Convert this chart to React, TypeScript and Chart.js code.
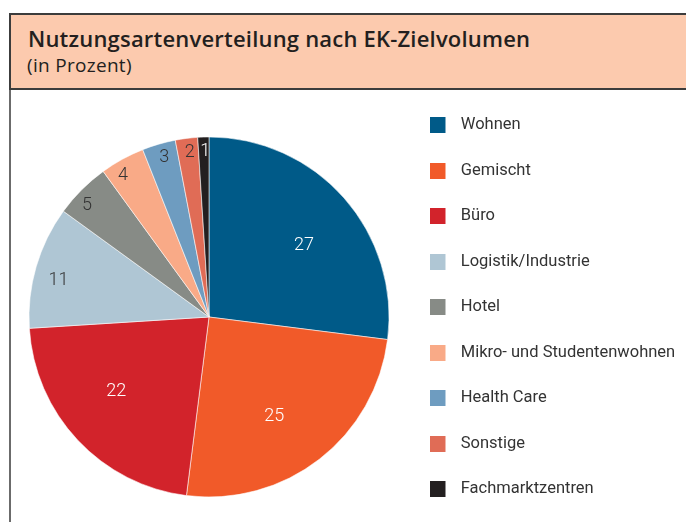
import React, { useEffect, useRef } from "react";
import { Chart, registerables } from "chart.js";

Chart.register(...registerables);

const titleText = "Nutzungsartenverteilung nach EK-Zielvolumen";
const subtitleText = "(in Prozent)";
const categories = [
  "Wohnen",
  "Gemischt",
  "Büro",
  "Logistik/Industrie",
  "Hotel",
  "Mikro- und Studentenwohnen",
  "Health Care",
  "Sonstige",
  "Fachmarktzentren",
];
const shares = [27, 25, 22, 11, 5, 4, 3, 2, 1];
const colors = [
  "#005A88",
  "#F15A29",
  "#D2232B",
  "#AFC6D4",
  "#878B86",
  "#F9AA87",
  "#6E9CC0",
  "#E06C56",
  "#231F20",
];

const FONT_FAMILY = "Roboto, 'Liberation Sans', sans-serif";
const TITLE_FAMILY = "'Open Sans', Roboto, sans-serif";
const LEGEND_SIZE = 16.5;
const LEGEND_PAD = 29;
const SWATCH = 16;
const SWATCH_SLOT = 23;

const CANVAS_LEFT = 12;
const CANVAS_TOP = 88;
const CANVAS_W = 720;
const CANVAS_H = 458;
const LEGEND_LEFT = 388.5; // canvas coords of legend block left
const PIE_RADIUS = 180;

function isDark(hex: string) {
  const n = parseInt(hex.slice(1), 16);
  const r = (n >> 16) & 255, g = (n >> 8) & 255, b = n & 255;
  return 0.299 * r + 0.587 * g + 0.114 * b < 133;
}

function swatch(color: string) {
  const c = document.createElement("canvas");
  c.width = SWATCH_SLOT;
  c.height = SWATCH;
  const x = c.getContext("2d")!;
  x.fillStyle = color;
  x.fillRect(0, 0, SWATCH, SWATCH);
  return c;
}

const sliceLabels = {
  id: "sliceLabels",
  afterDatasetsDraw(chart: any) {
    const ctx = chart.ctx;
    const meta = chart.getDatasetMeta(0);
    const data = chart.data.datasets[0].data as number[];
    ctx.save();
    ctx.font = `300 18px ${FONT_FAMILY}`;
    ctx.textAlign = "center";
    ctx.textBaseline = "middle";
    meta.data.forEach((arc: any, i: number) => {
      const p = arc.getProps(["x", "y", "startAngle", "endAngle", "outerRadius"], true);
      const v = data[i];
      const f = v >= 20 ? 0.66 : v >= 10 ? 0.86 : 0.92;
      const shiftDeg = v >= 20 ? 4.5 : v >= 4 ? -2.5 : 0.5;
      const a = (p.startAngle + p.endAngle) / 2 + (shiftDeg * Math.PI) / 180;
      ctx.fillStyle = isDark(colors[i]) ? "#ffffff" : "#333333";
      ctx.fillText(String(v), p.x + Math.cos(a) * p.outerRadius * f, p.y + Math.sin(a) * p.outerRadius * f);
    });
    ctx.restore();
  },
};

export default function App() {
  const ref = useRef<HTMLCanvasElement | null>(null);

  useEffect(() => {
    const canvas = ref.current!;
    const fontString = `normal ${LEGEND_SIZE}px ${FONT_FAMILY}`;
    const mctx = document.createElement("canvas").getContext("2d")!;
    mctx.font = fontString;
    const maxTextW = Math.max(...categories.map((t) => mctx.measureText(t).width));
    const legendW = LEGEND_PAD + SWATCH_SLOT + LEGEND_SIZE / 2 + maxTextW + 10;
    const padRight = CANVAS_W - LEGEND_LEFT - legendW;
    const padLeft = 2 * (209 - CANVAS_LEFT) - LEGEND_LEFT;
    const swatches = colors.map(swatch);

    const chart = new Chart(canvas, {
      type: "pie",
      data: {
        labels: categories,
        datasets: [
          {
            data: shares,
            backgroundColor: colors,
            borderColor: "rgba(255,255,255,0.7)",
            borderWidth: 0.8,
          },
        ],
      },
      options: {
        responsive: false,
        animation: false,
        radius: PIE_RADIUS,
        layout: { padding: { left: padLeft, right: padRight, top: 0, bottom: 0 } },
        plugins: {
          tooltip: { enabled: false },
          legend: {
            position: "right",
            align: "start",
            labels: {
              usePointStyle: true,
              pointStyleWidth: SWATCH_SLOT,
              boxHeight: SWATCH,
              padding: LEGEND_PAD,
              color: "#333333",
              font: { family: FONT_FAMILY, size: LEGEND_SIZE, weight: "normal" },
              generateLabels: (c: any) =>
                c.data.labels.map((label: string, i: number) => ({
                  text: label,
                  fillStyle: colors[i],
                  strokeStyle: colors[i],
                  lineWidth: 0,
                  pointStyle: swatches[i],
                  fontColor: "#333333",
                  hidden: false,
                  index: i,
                })),
            },
          },
        },
      } as any,
      plugins: [sliceLabels],
    });
    return () => chart.destroy();
  }, []);

  return (
    <div
      style={{
        position: "absolute",
        left: 0,
        top: 0,
        width: 686,
        height: 522,
        overflow: "hidden",
        background: "#ffffff",
      }}
    >
      <div
        style={{
          position: "absolute",
          left: 9,
          top: 13,
          width: 720,
          height: 600,
          borderLeft: "2px solid #6b6b6b",
          boxSizing: "border-box",
        }}
      />
      <div
        style={{
          position: "absolute",
          left: 9,
          top: 13,
          width: 720,
          height: 77,
          background: "#FCCAAE",
          borderTop: "2px solid #3c3c3c",
          borderLeft: "2px solid #3c3c3c",
          borderBottom: "2px solid #3c3c3c",
          boxSizing: "border-box",
        }}
      />
      <div
        style={{
          position: "absolute",
          left: 28,
          top: 26.5,
          fontFamily: TITLE_FAMILY,
          fontWeight: 600,
          fontSize: 22,
          lineHeight: "22px",
          letterSpacing: "0.2px",
          color: "#231F20",
          whiteSpace: "nowrap",
        }}
      >
        {titleText}
      </div>
      <div
        style={{
          position: "absolute",
          left: 27,
          top: 56,
          fontFamily: TITLE_FAMILY,
          fontWeight: 400,
          fontSize: 19,
          lineHeight: "19px",
          letterSpacing: "0.3px",
          color: "#231F20",
          whiteSpace: "nowrap",
        }}
      >
        {subtitleText}
      </div>
      <canvas
        ref={ref}
        width={CANVAS_W}
        height={CANVAS_H}
        style={{
          position: "absolute",
          left: CANVAS_LEFT,
          top: CANVAS_TOP,
          width: CANVAS_W,
          height: CANVAS_H,
        }}
      />
    </div>
  );
}
